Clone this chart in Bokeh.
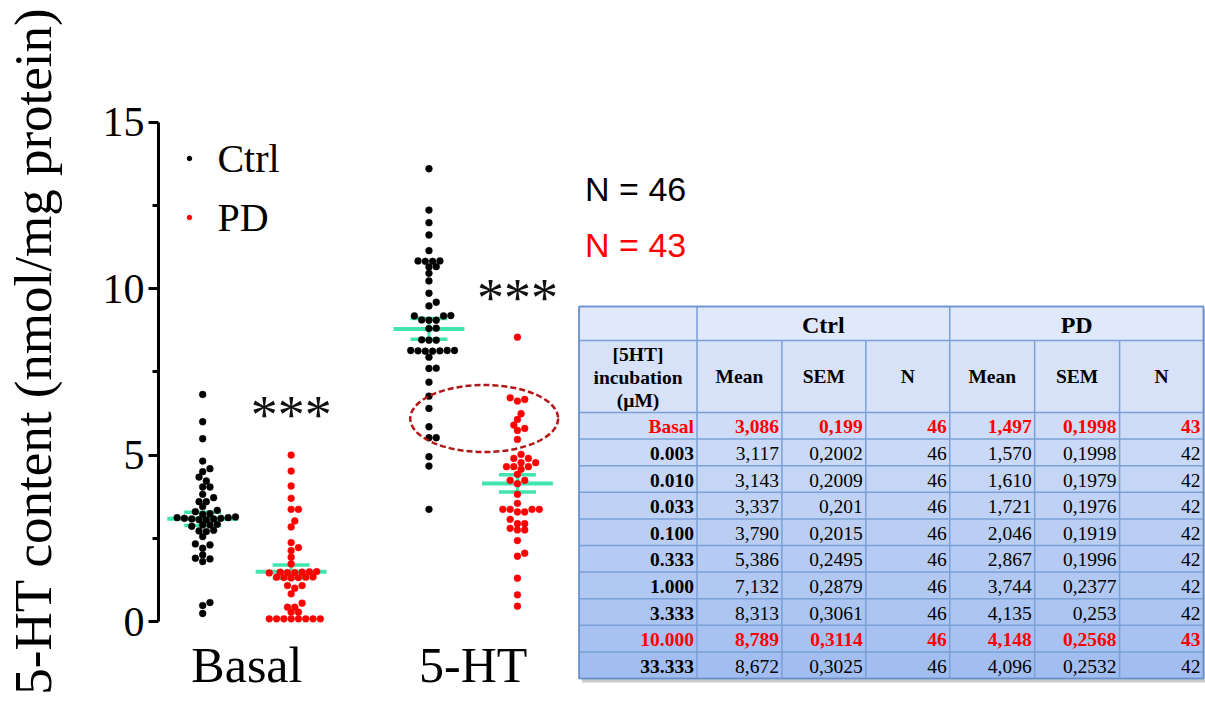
import numpy as np
from bokeh.plotting import figure
from bokeh.models import Range1d, FixedTicker
from bokeh.core.properties import value
from bokeh.embed import file_html
from bokeh.resources import INLINE

# ---------------- data ----------------
groups = ["Basal", "5-HT"]
basal_ctrl = [6.82, 6.00, 5.49, 4.82, 4.59, 4.50, 4.34, 4.22, 4.04, 4.04,
              3.82, 3.72, 3.60, 3.60, 3.45, 3.34, 3.30, 3.24, 3.22,
              3.14, 3.12, 3.12, 3.10, 3.10, 3.08, 3.08, 3.06, 3.06,
              2.92, 2.90, 2.90, 2.86, 2.74, 2.72, 2.70, 2.55, 2.33, 2.30,
              2.20, 2.00, 1.90, 1.88, 1.80, 0.57, 0.48, 0.24]
basal_pd = [5.00, 4.52, 4.07, 3.70, 3.37, 3.37, 3.02, 2.84, 2.37, 2.22, 2.13,
            1.93, 1.73, 1.50, 1.49, 1.48, 1.48, 1.47, 1.47, 1.46,
            1.34, 1.33, 1.33, 1.32, 1.32, 1.31, 1.08, 1.08, 1.00, 0.83, 0.55,
            0.43, 0.43, 0.28, 0.28, 0.08, 0.08, 0.08, 0.08, 0.08, 0.08, 0.08, 0.08]
ht_ctrl = [13.60, 12.36, 11.98, 11.61, 11.14, 10.83, 10.83, 10.82, 10.82,
           10.66, 10.65, 10.46, 10.23, 9.86, 9.59, 9.48, 9.19, 9.18, 9.18,
           9.06, 9.05, 9.05, 8.81, 8.80, 8.46, 8.45, 8.45,
           8.14, 8.14, 8.14, 8.13, 8.13, 8.12, 8.12, 7.94, 7.61, 7.60,
           7.19, 6.77, 6.40, 5.85, 5.52, 5.52, 4.95, 4.67, 3.37]
ht_pd = [8.54, 6.72, 6.67, 6.62, 6.24, 6.07, 5.90, 5.80, 5.74, 5.47,
         5.02, 4.90, 4.90, 4.77, 4.77, 4.65, 4.65, 4.65, 4.57, 4.42,
         4.24, 4.24, 4.14, 3.82, 3.55, 3.37, 3.37, 3.37, 3.37, 3.29, 3.29,
         3.07, 2.94, 2.94, 2.80, 2.75, 2.75, 2.43, 2.05, 1.96, 1.30, 0.80, 0.46]

y_ticks = [0, 5, 10, 15]
y_minor = [2.5, 7.5, 12.5]

conc = ["Basal", "0.003", "0.010", "0.033", "0.100", "0.333", "1.000", "3.333", "10.000", "33.333"]
ctrl_mean = ["3,086", "3,117", "3,143", "3,337", "3,790", "5,386", "7,132", "8,313", "8,789", "8,672"]
ctrl_sem = ["0,199", "0,2002", "0,2009", "0,201", "0,2015", "0,2495", "0,2879", "0,3061", "0,3114", "0,3025"]
ctrl_n = ["46"] * 10
pd_mean = ["1,497", "1,570", "1,610", "1,721", "2,046", "2,867", "3,744", "4,135", "4,148", "4,096"]
pd_sem = ["0,1998", "0,1998", "0,1979", "0,1976", "0,1919", "0,1996", "0,2377", "0,253", "0,2568", "0,2532"]
pd_n = ["43", "42", "42", "42", "42", "42", "42", "42", "43", "42"]
highlight = ["Basal", "10.000"]
n_labels = ["N = 46", "N = 43"]

def num(s):
    return float(s.replace(",", "."))

# ---------------- layout constants ----------------
W, H = 1205, 701
FL = 157          # frame left (axis line)
Y0PX = 621        # pixel row of y = 0
YS = 33.29        # px per y unit
XS = 226.5        # px per group spacing
X0PX = 245.5      # px of Basal group centre
SIDE = 0.1955     # Ctrl / PD offset from group centre
SERIF = "Liberation Serif"
SANS = "Liberation Sans"
GREEN = "#40E6AE"

p = figure(width=W, height=H, output_backend="svg", toolbar_location=None,
           x_range=Range1d((FL - X0PX) / XS, (W - X0PX) / XS),
           y_range=Range1d(-(H - Y0PX) / YS, Y0PX / YS),
           x_axis_location=None,
           min_border_left=FL, min_border_right=0, min_border_top=0, min_border_bottom=0)
p.extra_x_ranges = {"px": Range1d(FL, W)}
p.extra_y_ranges = {"py": Range1d(H, 0)}
p.grid.visible = False
p.outline_line_color = None
p.background_fill_color = "white"
p.border_fill_color = "white"

ax = p.yaxis[0]
ax.ticker = FixedTicker(ticks=y_ticks, minor_ticks=y_minor)
ax.bounds = (0, 15)
ax.axis_line_width = 3
ax.major_tick_line_width = 3
ax.minor_tick_line_width = 3
ax.major_tick_out = 10
ax.major_tick_in = 0
ax.minor_tick_out = 6
ax.minor_tick_in = 0
ax.major_label_text_font = SERIF
ax.major_label_text_font_size = "42px"
ax.major_label_text_color = "black"
ax.major_label_standoff = 4
ax.axis_label = "5-HT content (nmol/mg protein)"
ax.axis_label_text_font = SERIF
ax.axis_label_text_font_size = "53px"
ax.axis_label_text_font_style = "normal"
ax.axis_label_text_color = "black"
ax.axis_label_standoff = 38

# ---------------- beeswarm ----------------
def swarm(vals, step=7.3, dmin=6.0):
    ys = np.asarray(vals) * YS
    order = np.argsort(ys, kind="stable")
    px, py = [], []
    out = np.zeros(len(vals))
    cands = [0.0]
    for k in range(1, 60):
        cands += [k * step / 2, -k * step / 2]
    for i in order:
        y = ys[i]
        for c in cands:
            if all((c - a) ** 2 + (y - b) ** 2 >= dmin * dmin for a, b in zip(px, py)) and \
               all(abs(c - a) >= step - 0.01 for a, b in zip(px, py) if abs(y - b) < 2.5):
                break
        out[i] = c
        px.append(c)
        py.append(y)
    return out / XS

sets = [(0, -1, basal_ctrl, "black"), (0, 1, basal_pd, "red"),
        (1, -1, ht_ctrl, "black"), (1, 1, ht_pd, "red")]

# mean +- SEM lines (from table rows Basal and 10.000)
i_b, i_h = conc.index("Basal"), conc.index("10.000")
stats = [(num(ctrl_mean[i_b]), num(ctrl_sem[i_b])), (num(pd_mean[i_b]), num(pd_sem[i_b])),
         (num(ctrl_mean[i_h]), num(ctrl_sem[i_h])), (num(pd_mean[i_h]), num(pd_sem[i_h]))]
LONG = 35.5 / XS
SHORT = 18.5 / XS
for (g, s, vals, col), (m, se) in zip(sets, stats):
    cx = g + s * SIDE
    p.segment(x0=[cx - LONG], x1=[cx + LONG], y0=[m], y1=[m], line_color=GREEN, line_width=4)
    p.segment(x0=[cx - SHORT, cx - SHORT], x1=[cx + SHORT, cx + SHORT],
              y0=[m - se, m + se], y1=[m - se, m + se], line_color=GREEN, line_width=3.5)
    p.segment(x0=[cx], x1=[cx], y0=[m - se], y1=[m + se], line_color=GREEN, line_width=3)

for g, s, vals, col in sets:
    cx = g + s * SIDE
    xs = cx + swarm(vals)
    p.scatter(x=xs, y=vals, size=6.8, marker="circle", fill_color=col, line_color=col, line_width=0.5)

# significance stars (centred over PD columns)
p.text(x=[0 + SIDE, 1 + SIDE], y=[(Y0PX - 414) / YS, (Y0PX - 297) / YS], text=["***", "***"],
       text_font=value(SERIF), text_font_size="54px", text_align="center",
       text_baseline="middle", text_color="#111111")

# dashed ellipse
p.ellipse(x=[(483 - X0PX) / XS], y=[(Y0PX - 418) / YS], width=148 / XS, height=67 / YS,
          fill_color=None, line_color="#b01818", line_width=2.5, line_dash="6 3")

# category labels
p.text(x=[0, 1], y=[(Y0PX - 664) / YS] * 2, text=groups, text_font=value(SERIF),
       text_font_size="50px", text_align="center", text_baseline="middle", text_color="black")

# legend
p.scatter(x=[188, 188], y=[158, 217], size=4.5, fill_color=["black", "red"],
          line_color=["black", "red"], x_range_name="px", y_range_name="py")
p.text(x=[216, 216], y=[158, 217], text=["Ctrl", "PD"], text_font=value(SERIF),
       text_font_size="40px", text_baseline="middle", text_color="black",
       x_range_name="px", y_range_name="py")

# N labels
p.text(x=[584, 584], y=[188, 244], text=n_labels, text_font=value(SANS), text_font_size="34px",
       text_baseline="middle", text_color=["black", "red"], x_range_name="px", y_range_name="py")

# ---------------- table ----------------
TX0, TY0 = 578, 306
col_w = [118, 85, 84, 84, 85, 85, 84]
row_h = [34, 72] + [26.6] * len(conc)
cx_e = TX0 + np.concatenate([[0], np.cumsum(col_w)])
ry_e = TY0 + np.concatenate([[0], np.cumsum(row_h)])
TX1, TY1 = cx_e[-1], ry_e[-1]

# shadow
p.quad(left=[TX0 + 3], right=[TX1 + 3], top=[TY0 + 3], bottom=[TY1 + 4],
       fill_color="#8a8a8a", fill_alpha=0.45, line_color=None, x_range_name="px", y_range_name="py")

c_top = np.array([0xE4, 0xEC, 0xFC])
c_bot = np.array([0xA0, 0xBC, 0xF0])
fills = []
for i in range(len(row_h)):
    f = ((ry_e[i] + ry_e[i + 1]) / 2 - TY0) / (TY1 - TY0)
    c = (c_top + (c_bot - c_top) * f).astype(int)
    fills.append("#%02x%02x%02x" % tuple(c))
p.quad(left=[TX0] * len(row_h), right=[TX1] * len(row_h), top=list(ry_e[:-1]), bottom=list(ry_e[1:]),
       fill_color=fills, line_color=None, x_range_name="px", y_range_name="py")

GRID = "#7AA0D6"
p.segment(x0=[TX0] * len(ry_e), x1=[TX1] * len(ry_e), y0=list(ry_e), y1=list(ry_e),
          line_color=GRID, line_width=1.5, x_range_name="px", y_range_name="py")
full = [cx_e[0], cx_e[1], cx_e[4], cx_e[7]]
part = [cx_e[2], cx_e[3], cx_e[5], cx_e[6]]
p.segment(x0=full, x1=full, y0=[TY0] * 4, y1=[TY1] * 4, line_color=GRID, line_width=1.5,
          x_range_name="px", y_range_name="py")
p.segment(x0=part, x1=part, y0=[ry_e[1]] * 4, y1=[TY1] * 4, line_color=GRID, line_width=1.5,
          x_range_name="px", y_range_name="py")
p.quad(left=[TX0], right=[TX1], top=[TY0], bottom=[TY1], fill_color=None, line_color="#6690CC",
       line_width=1.5, x_range_name="px", y_range_name="py")

TF = "19.5px"
kw = dict(text_font=value(SERIF), x_range_name="px", y_range_name="py", text_baseline="middle")
p.text(x=[(cx_e[1] + cx_e[4]) / 2, (cx_e[4] + cx_e[7]) / 2], y=[(ry_e[0] + ry_e[1]) / 2 + 1] * 2,
       text=["Ctrl", "PD"], text_font_size="24px", text_font_style="bold", text_align="center",
       text_color="black", **kw)
hy = (ry_e[1] + ry_e[2]) / 2
p.text(x=[(cx_e[0] + cx_e[1]) / 2] * 3, y=[hy - 22, hy + 1, hy + 24],
       text=["[5HT]", "incubation", "(\u00b5M)"], text_font_size=TF, text_font_style="bold",
       text_align="center", text_color="black", **kw)
p.text(x=[(cx_e[j] + cx_e[j + 1]) / 2 for j in range(1, 7)], y=[hy] * 6,
       text=["Mean", "SEM", "N", "Mean", "SEM", "N"], text_font_size=TF, text_font_style="bold",
       text_align="center", text_color="black", **kw)

cols = [conc, ctrl_mean, ctrl_sem, ctrl_n, pd_mean, pd_sem, pd_n]
for r in range(len(conc)):
    yc = (ry_e[r + 2] + ry_e[r + 3]) / 2 + 1
    red = conc[r] in highlight
    for j, col in enumerate(cols):
        bold = red or j == 0
        p.text(x=[cx_e[j + 1] - 3], y=[yc], text=[col[r]], text_font_size=TF,
               text_font_style="bold" if bold else "normal", text_align="right",
               text_color="#ff0000" if red else "black", **kw)

open("out.html", "w").write(file_html(p, INLINE))
